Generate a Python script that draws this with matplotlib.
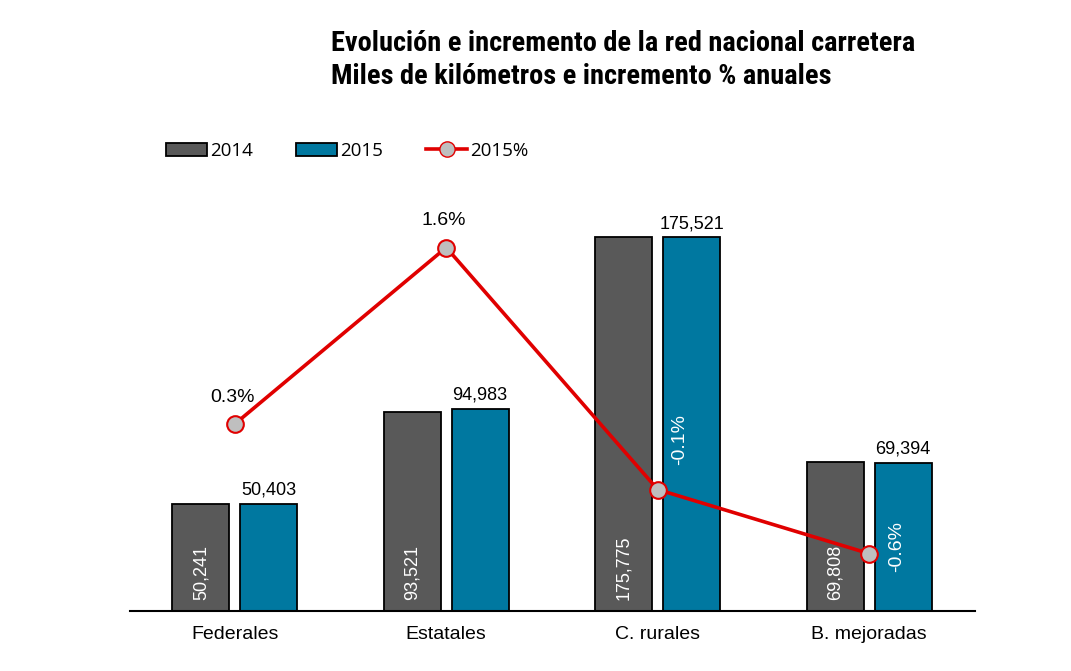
import matplotlib
matplotlib.use('Agg')
import matplotlib.pyplot as plt
import numpy as np
from matplotlib.patches import Patch
from matplotlib.lines import Line2D
from matplotlib import font_manager

# Data (kilometres)
categories = ['Federales', 'Estatales', 'C. rurales', 'B. mejoradas']
km_2014 = [50241, 93521, 175775, 69808]
km_2015 = [50403, 94983, 175521, 69394]
pct_2015 = [0.32, 1.56, -0.14, -0.59]
pct_labels = ['0.3%', '1.6%', '-0.1%', '-0.6%']

grey = '#595959'
blue = '#0078A0'
red = '#E00000'

# pick a narrow bold face for the title if one is around
names = {f.name for f in font_manager.fontManager.ttflist}
title_font = 'Liberation Sans'
title_size = 17.2
for cand in ['Liberation Sans Narrow', 'Roboto Condensed', 'Open Sans Condensed',
             'DejaVu Sans Condensed']:
    if cand in names:
        title_font = cand
        title_size = 20.4
        break

fig = plt.figure(figsize=(10.71, 6.71), dpi=100)
ax = fig.add_axes([0.1214, 0.0894, 0.789, 0.6423])
x = np.arange(len(categories))
w = 0.27
off = 0.16

ax.bar(x - off, km_2014, w, color=grey, edgecolor='black', linewidth=1.3, zorder=2)
ax.bar(x + off, km_2015, w, color=blue, edgecolor='black', linewidth=1.3, zorder=2)
ax.set_xlim(-0.495, 3.5)
ax.set_ylim(0, 202500)

for spine in ['top', 'left', 'right']:
    ax.spines[spine].set_visible(False)
ax.spines['bottom'].set_linewidth(1.5)
ax.set_yticks([])
ax.set_xticks(x)
ax.set_xticklabels(categories, fontsize=14, family='Liberation Sans')
ax.tick_params(axis='x', length=0, pad=11)

# labels on bars
for i in range(len(categories)):
    ax.text(x[i] - off, 5000, f'{km_2014[i]:,}', rotation=90, color='white',
            ha='center', va='bottom', fontsize=13, family='Liberation Sans')
    ax.text(x[i] + off, km_2015[i] + 2500, f'{km_2015[i]:,}', color='black',
            ha='center', va='bottom', fontsize=13, family='Liberation Sans')

# percentage line on secondary axis
ax2 = ax.twinx()
ax2.set_ylim(-0.993, 2.034)
ax2.axis('off')
ax2.plot(x, pct_2015, color=red, linewidth=2.6, marker='o', markersize=12,
         markerfacecolor='#BFBFBF', markeredgecolor=red, markeredgewidth=1.5, zorder=3)
ax2.text(x[0] - 0.01, pct_2015[0] + 0.13, pct_labels[0], ha='center', va='bottom',
         fontsize=14, family='Liberation Sans')
ax2.text(x[1] - 0.01, pct_2015[1] + 0.13, pct_labels[1], ha='center', va='bottom',
         fontsize=14, family='Liberation Sans')
ax2.text(x[2] + off - 0.055, 0.21, pct_labels[2], rotation=90, color='white',
         ha='center', va='center', fontsize=14, family='Liberation Sans')
ax2.text(x[3] + off - 0.03, -0.54, pct_labels[3], rotation=90, color='white',
         ha='center', va='center', fontsize=14, family='Liberation Sans')

# title
fig.text(0.309, 0.955, 'Evolución e incremento de la red nacional carretera\nMiles de kilómetros e incremento % anuales',
         ha='left', va='top', fontsize=title_size, fontweight='bold', linespacing=1.3,
         family=title_font)

# legend
handles = [Patch(facecolor=grey, edgecolor='black', linewidth=1.3),
           Patch(facecolor=blue, edgecolor='black', linewidth=1.3),
           Line2D([], [], color=red, linewidth=2.6, marker='o', markersize=11,
                  markerfacecolor='#BFBFBF', markeredgecolor=red)]
fig.legend(handles, ['2014', '2015', '2015%'], loc='center left',
           bbox_to_anchor=(0.155, 0.775), ncol=3, frameon=False,
           borderpad=0, borderaxespad=0,
           prop={'family': 'Open Sans', 'size': 13.5}, handlelength=2.2,
           handleheight=0.7, handletextpad=0.15, columnspacing=2.3)

fig.savefig('out.png', dpi=100)
